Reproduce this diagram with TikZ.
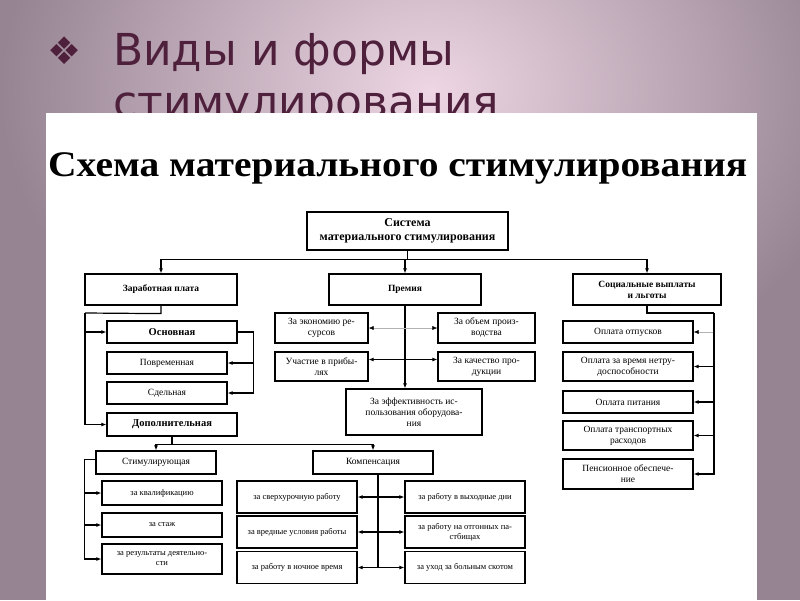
\documentclass[tikz,border=0pt]{standalone}
\usepackage{fontspec}
\setmainfont{Liberation Serif}
\newfontfamily\titlefont{DejaVu Sans}
\usetikzlibrary{arrows.meta}

\definecolor{slidebg}{RGB}{150,132,147}
\definecolor{slideglow}{RGB}{238,214,228}
\definecolor{titlecol}{RGB}{78,32,60}

\tikzset{
  bx/.style={draw, line width=1.2pt, align=center, inner sep=1pt,
    font=\fontsize{9.5}{11}\selectfont},
  bxb/.style={bx, font=\bfseries\fontsize{9.5}{11}\selectfont},
  bxs/.style={bx, font=\fontsize{8.5}{10}\selectfont},
  arr/.style={-{Latex[length=5pt,width=4pt]}, line width=1.2pt},
  darr/.style={{Latex[length=5pt,width=4pt]}-{Latex[length=5pt,width=4pt]}, line width=1.2pt},
  farr/.style={-{Latex[length=5pt,width=4pt,color=black]}, line width=0.5pt, draw=gray!60},
  fdarr/.style={{Latex[length=5pt,width=4pt,color=black]}-{Latex[length=5pt,width=4pt,color=black]},
    line width=0.5pt, draw=gray!60},
  conn/.style={line width=1.2pt},
}

\begin{document}
\begin{tikzpicture}[x=1pt,y=-1pt]
\useasboundingbox (0,0) rectangle (800,600);
% slide background
\fill[slidebg] (0,0) rectangle (800,600);
\shade[inner color=slideglow, outer color=slidebg] (430,90) ellipse (430 and 330);

% slide title
\node[text=titlecol, font=\titlefont\fontsize{38}{38}\selectfont, inner sep=0] (bul) at (65,51) {❖};
\node[text=titlecol, font=\titlefont\fontsize{44}{50}\selectfont, inner sep=0, anchor=base west]
  (tl1) at (113,65) {Виды и формы};
\node[text=titlecol, font=\titlefont\fontsize{44}{50}\selectfont, inner sep=0, anchor=base west]
  (tl2) at (113,117) {стимулирования};

% white picture panel
\fill[white] (46,113) rectangle (757,600);
\node[font=\bfseries\fontsize{36}{40}\selectfont, inner sep=0, anchor=base west]
  (head) at (48,176) {\scalebox{1.097}[1]{Схема материального стимулирования}};

% top levels
\node[bx, font=\bfseries\fontsize{12}{14}\selectfont, minimum width=201pt, minimum height=38pt]
  (sys) at (407.5,231) {Система\\материального стимулирования};
\node[bxb, minimum width=152pt, minimum height=31pt] (zp) at (161,289.5) {Заработная плата};
\node[bxb, minimum width=152pt, minimum height=31pt] (prem) at (405,289.5) {Премия};
\node[bxb, minimum width=148pt, minimum height=31pt] (soc) at (647,289.5) {Социальные выплаты\\и льготы};

% wages
\node[bx, font=\bfseries\fontsize{10.5}{12}\selectfont, minimum width=130pt, minimum height=22pt]
  (osn) at (172,332) {Основная};
\node[bx, minimum width=120pt, minimum height=22pt] (povr) at (167,363) {Повременная};
\node[bx, minimum width=120pt, minimum height=22pt] (sdel) at (167,393) {Сдельная};
\node[bx, font=\bfseries\fontsize{10.5}{12}\selectfont, minimum width=130pt, minimum height=23pt]
  (dop) at (172,424.5) {Дополнительная};

% bonus
\node[bx, minimum width=93pt, minimum height=30pt] (ekon) at (321.5,328) {За экономию ре-\\сурсов};
\node[bx, minimum width=93pt, minimum height=29pt] (prib) at (321.5,366.5) {Участие в прибы-\\лях};
\node[bx, minimum width=97pt, minimum height=30pt] (obem) at (486.5,328) {За объем произ-\\водства};
\node[bx, minimum width=97pt, minimum height=29pt] (kach) at (486.5,366.5) {За качество про-\\дукции};
\node[bx, minimum width=136pt, minimum height=46pt] (eff) at (414,412)
  {За эффективность ис-\\пользования оборудова-\\ния};

% social payments
\node[bx, minimum width=130pt, minimum height=22pt] (otp) at (628,332) {Оплата отпусков};
\node[bx, minimum width=130pt, minimum height=29pt] (netr) at (628,366.5) {Оплата за время нетру-\\доспособности};
\node[bx, minimum width=130pt, minimum height=22pt] (pit) at (628,402) {Оплата питания};
\node[bx, minimum width=130pt, minimum height=29pt] (trans) at (628,435.5) {Оплата транспортных\\расходов};
\node[bx, minimum width=130pt, minimum height=30pt] (pens) at (628,474) {Пенсионное обеспече-\\ние};

% additional pay
\node[bx, minimum width=120pt, minimum height=23pt] (stim) at (156,462.5) {Стимулирующая};
\node[bx, minimum width=120pt, minimum height=23pt] (komp) at (373,462.5) {Компенсация};
\node[bxs, minimum width=120pt, minimum height=24pt] (kval) at (162,493) {за квалификацию};
\node[bxs, minimum width=120pt, minimum height=24pt] (stazh) at (162,525) {за стаж};
\node[bxs, minimum width=120pt, minimum height=30pt] (rez) at (162,559) {за результаты деятельно-\\сти};
\node[bxs, minimum width=120pt, minimum height=32pt] (sverh) at (297,497) {за сверхурочную работу};
\node[bxs, minimum width=120pt, minimum height=32pt] (vred) at (297,532) {за вредные условия работы};
\node[bxs, minimum width=120pt, minimum height=32pt] (noch) at (297,567.5) {за работу в ночное время};
\node[bxs, minimum width=120pt, minimum height=32pt] (vyh) at (465,497) {за работу в выходные дни};
\node[bxs, minimum width=120pt, minimum height=32pt] (otg) at (465,532) {за работу на отгонных па-\\стбищах};
\node[bxs, minimum width=120pt, minimum height=32pt] (uhod) at (465,567.5) {за уход за больным скотом};

% connectors
\path (sys.south) ++(0,9) coordinate (top);
\draw[arr] (sys.south) -- (top) -| (zp.north);
\draw[arr] (top) -| (prem.north);
\draw[arr] (top) -| (soc.north);

\path (zp.south) ++(0,8) coordinate (zpb);
\coordinate (zpl) at (85,313);
\draw[conn] (zp.south) -- (zpb) -- (zpl);
\draw[arr] (zpl) |- (osn.west);
\draw[arr] (zpl) |- (dop.west);

\draw[arr] (osn.east) -- ++(16,0) coordinate (osr) |- (povr.east);
\draw[arr] (osr) |- (sdel.east);

\draw[arr] (prem.south) -- (prem.south |- eff.north);
\draw[fdarr] (ekon.east) -- (obem.west);
\draw[darr] ([yshift=7pt]prib.east) -- ([yshift=7pt]kach.west);

\coordinate (scr) at (714,313);
\draw[conn] (soc.south) |- (scr);
\draw[farr] (scr) |- (otp.east);
\draw[arr] (scr) |- (netr.east);
\draw[arr] (scr) |- (pit.east);
\draw[arr] (scr) |- (trans.east);
\draw[arr] (scr) |- (pens.east);

\path (dop.south) ++(0,8) coordinate (dpb);
\draw[arr] (dop.south) -- (dpb) -| (stim.north);
\draw[arr] (dpb) -| (komp.north);

\draw[arr] ([yshift=3pt]stim.west) -- ++(-11,0) coordinate (stl) |- (kval.west);
\draw[arr] (stl) |- (stazh.west);
\draw[arr] (stl) |- (rez.west);

\path ([xshift=5pt]komp.south) coordinate (kb);
\draw[conn] (kb) -- (kb |- noch.east);
\draw[darr] (sverh.east) -- (vyh.west);
\draw[darr] (vred.east) -- (otg.west);
\draw[darr] (noch.east) -- (uhod.west);
\end{tikzpicture}
\end{document}
